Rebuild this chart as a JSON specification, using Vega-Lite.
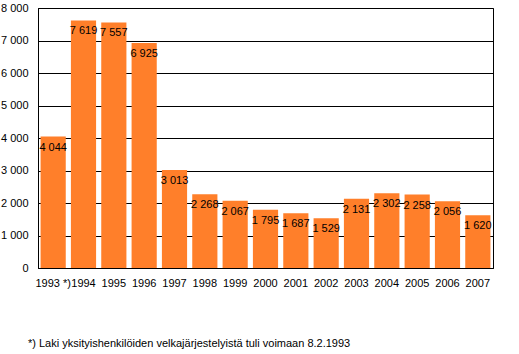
{
  "$schema": "https://vega.github.io/schema/vega-lite/v6.json",
  "width": 455,
  "height": 260,
  "autosize": "none",
  "padding": {"left": 38, "top": 8, "right": 26, "bottom": 86},
  "background": "white",
  "data": {
    "values": [
      {"year": "1993 *)", "value": 4044},
      {"year": "1994", "value": 7619},
      {"year": "1995", "value": 7557},
      {"year": "1996", "value": 6925},
      {"year": "1997", "value": 3013},
      {"year": "1998", "value": 2268},
      {"year": "1999", "value": 2067},
      {"year": "2000", "value": 1795},
      {"year": "2001", "value": 1687},
      {"year": "2002", "value": 1529},
      {"year": "2003", "value": 2131},
      {"year": "2004", "value": 2302},
      {"year": "2005", "value": 2258},
      {"year": "2006", "value": 2056},
      {"year": "2007", "value": 1620}
    ]
  },
  "title": {
    "text": "*) Laki yksityishenkilöiden velkajärjestelyistä tuli voimaan 8.2.1993",
    "orient": "bottom",
    "anchor": "start",
    "frame": "group",
    "dx": -10,
    "offset": 50,
    "fontSize": 11,
    "fontWeight": "normal",
    "font": "Liberation Sans",
    "color": "black"
  },
  "encoding": {
    "x": {
      "field": "year",
      "type": "nominal",
      "sort": null,
      "scale": {"paddingInner": 0.17, "paddingOuter": 0.085},
      "axis": {
        "title": null,
        "labelAngle": 0,
        "ticks": false,
        "labelPadding": 9,
        "domainColor": "black",
        "labelColor": "black",
        "labelFont": "Liberation Sans",
        "labelFontSize": 11
      }
    },
    "y": {
      "field": "value",
      "type": "quantitative",
      "scale": {"domain": [0, 8000], "nice": false},
      "axis": {
        "title": null,
        "values": [0, 1000, 2000, 3000, 4000, 5000, 6000, 7000, 8000],
        "format": ",d",
        "ticks": false,
        "labelOverlap": false,
        "labelPadding": 10,
        "gridColor": "black",
        "gridOpacity": 1,
        "domainColor": "black",
        "labelColor": "black",
        "labelFont": "Liberation Sans",
        "labelFontSize": 11
      }
    }
  },
  "layer": [
    {"mark": {"type": "bar", "color": "#FF7F2A"}},
    {
      "mark": {
        "type": "text",
        "baseline": "top",
        "dy": 5,
        "font": "Liberation Sans",
        "fontSize": 11,
        "color": "black"
      },
      "encoding": {
        "text": {"field": "value", "type": "quantitative", "format": ",d"}
      }
    }
  ],
  "config": {
    "locale": {
      "number": {"decimal": ",", "thousands": " ", "grouping": [3], "currency": ["", " €"]}
    },
    "view": {"stroke": "black", "strokeWidth": 1}
  }
}
